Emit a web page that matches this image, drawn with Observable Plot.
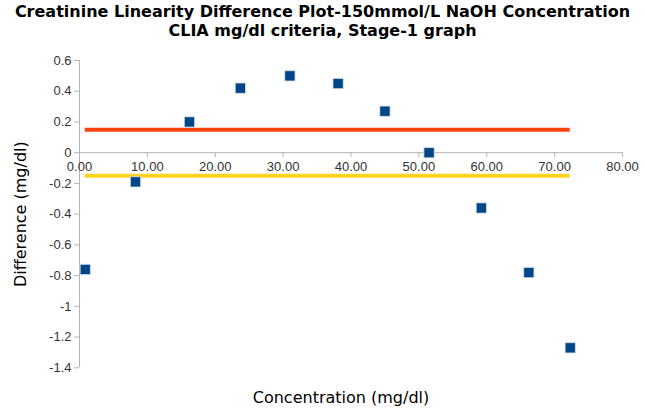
<!DOCTYPE html>
<html>
<head>
<meta charset="utf-8">
<script src="https://cdn.jsdelivr.net/npm/d3@7"></script>
<script src="https://cdn.jsdelivr.net/npm/@observablehq/plot@0.6"></script>
<style>
  body { margin: 0; background: #fff; }
  #title { width: 645px; height: 40px; box-sizing: border-box; padding-top: 2px; text-align: center;
    font: bold 16px "DejaVu Sans", sans-serif; line-height: 19px; color: #000; white-space: nowrap; }
</style>
</head>
<body>
<div id="title">Creatinine Linearity Difference Plot-150mmol/L NaOH Concentration<br>CLIA mg/dl criteria, Stage-1 graph</div>
<div id="chart"></div>
<script>
const concentration = [0.85, 8.25, 16.2, 23.7, 31.0, 38.1, 45.0, 51.5, 59.2, 66.2, 72.3];
const difference = [-0.76, -0.19, 0.20, 0.42, 0.50, 0.45, 0.27, 0.00, -0.36, -0.78, -1.27];
const criteriaUpper = 0.15;
const criteriaLower = -0.15;
const xTicks = [0, 10, 20, 30, 40, 50, 60, 70, 80];
const yTicks = [-1.4, -1.2, -1, -0.8, -0.6, -0.4, -0.2, 0, 0.2, 0.4, 0.6];

const points = concentration.map((c, i) => ({x: c, y: difference[i]}));
const xMin = d3.min(concentration), xMax = d3.max(concentration);
const criteria = [
  {y: criteriaUpper, color: "#ff420e"},
  {y: criteriaLower, color: "#ffd320"}
];

const W = 645, H = 370, mt = 20, mb = 42.7, ml = 79, mr = 23;
const yDom = [-1.4, 0.6];
const zeroY = mt + (yDom[1] - 0) / (yDom[1] - yDom[0]) * (H - mt - mb);
const axisDy = zeroY - (H - mb);

const chart = Plot.plot({
  width: W, height: H,
  marginTop: mt, marginBottom: mb, marginLeft: ml, marginRight: mr,
  style: {fontFamily: "'Liberation Sans', Arial, sans-serif", fontSize: "13px", color: "#333", background: "#fff", overflow: "visible"},
  x: {domain: [0, 80]},
  y: {domain: yDom},
  marks: [
    Plot.ruleX([0], {stroke: "#b3b3b3"}),
    Plot.ruleY([0], {stroke: "#b3b3b3"}),
    Plot.axisY({ticks: yTicks, tickFormat: d => String(+d.toFixed(1)), tickSize: 5, tickPadding: 3, stroke: "#b3b3b3", fill: "#333", label: null}),
    Plot.axisX({anchor: "bottom", ticks: xTicks, tickFormat: d => d.toFixed(2), tickSize: 5, tickPadding: 4, dy: axisDy, stroke: "#b3b3b3", fill: "#333", label: null}),
    Plot.ruleY(criteria, {y: "y", x1: xMin, x2: xMax, stroke: "color", strokeWidth: 4}),
    Plot.dot(points, {x: "x", y: "y", symbol: "square", r: 5.8, fill: "#004586", stroke: "#d6e2ef", strokeWidth: 0.8}),
    Plot.text(["Concentration (mg/dl)"], {frameAnchor: "bottom", lineAnchor: "middle", textAnchor: "middle", dy: 30, dx: -10, fontFamily: "'DejaVu Sans', sans-serif", fontSize: 16, fill: "#000"}),
    Plot.text(["Difference (mg/dl)"], {frameAnchor: "left", lineAnchor: "middle", textAnchor: "middle", dx: -59, rotate: -90, fontFamily: "'DejaVu Sans', sans-serif", fontSize: 16, fill: "#000"})
  ]
});
document.getElementById("chart").appendChild(chart);
</script>
</body>
</html>
